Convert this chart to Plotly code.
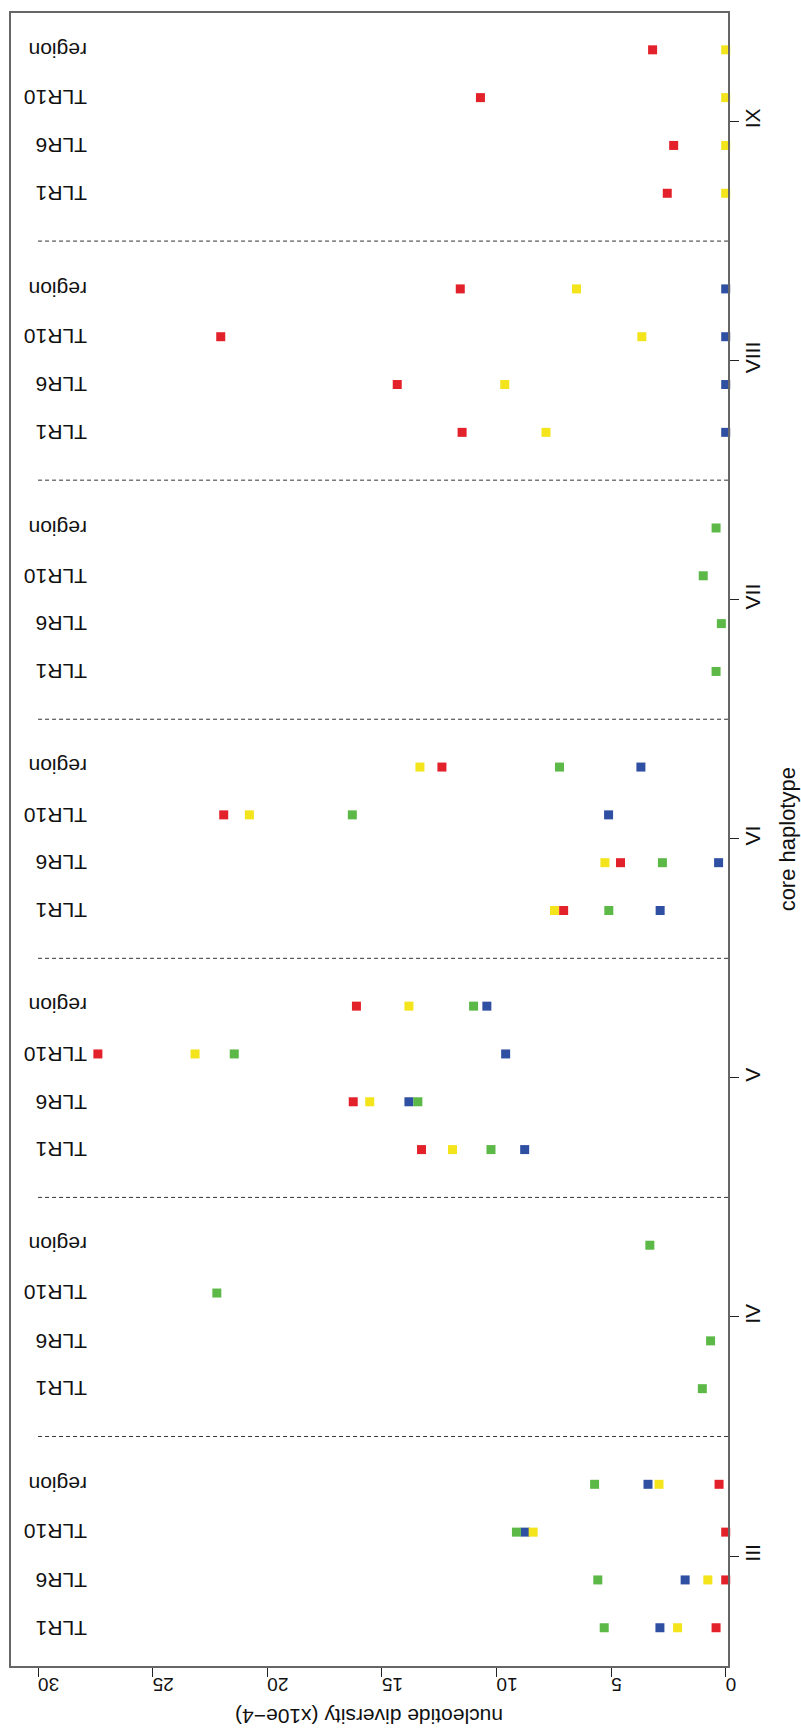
import plotly.graph_objects as go

groups = ["III", "IV", "V", "VI", "VII", "VIII", "IX"]
items = ["TLR1", "TLR6", "TLR10", "region"]

# values per group, in item order TLR1, TLR6, TLR10, region (None = not shown)
red = [
    [0.42, 0.0, 0.0, 0.29],
    [None, None, None, None],
    [13.27, 16.25, 27.39, 16.11],
    [7.07, 4.59, 21.90, 12.38],
    [None, None, None, None],
    [11.50, 14.33, 22.03, 11.58],
    [2.55, 2.27, 10.7, 3.19],
]
yellow = [
    [2.10, 0.78, 8.40, 2.91],
    [None, None, None, None],
    [11.92, 15.53, 23.15, 13.82],
    [7.47, 5.27, 20.78, 13.34],
    [None, None, None, None],
    [7.84, 9.64, 3.66, 6.51],
    [0.0, 0.0, 0.0, 0.0],
]
blue = [
    [2.87, 1.77, 8.75, 3.39],
    [None, None, None, None],
    [8.77, 13.82, 9.60, 10.42],
    [2.86, 0.31, 5.11, 3.70],
    [None, None, None, None],
    [0.0, 0.0, 0.0, 0.0],
    [None, None, None, None],
]
green = [
    [5.30, 5.58, 9.13, 5.72],
    [1.02, 0.66, 22.2, 3.31],
    [10.24, 13.43, 21.44, 11.0],
    [5.10, 2.76, 16.29, 7.25],
    [0.42, 0.19, 0.98, 0.42],
    [None, None, None, None],
    [None, None, None, None],
]

x_ticks = [0, 5, 10, 15, 20, 25, 30]

FONT = "Liberation Sans, Arial, sans-serif"

# positions of items: each group takes 5 slots (4 items + separator)
positions = []
for g in range(len(groups)):
    for i in range(len(items)):
        positions.append(5 * g + i + 1)
group_centers = [5 * g + 2.5 for g in range(len(groups))]
separators = [5 * g + 5 for g in range(len(groups) - 1)]


def flat(series):
    return [v for grp in series for v in grp]


fig = go.Figure()
for name, data, col in [
    ("blue", blue, "#2F4FA2"),
    ("green", green, "#5CB947"),
    ("yellow", yellow, "#F3E41B"),
    ("red", red, "#E3212A"),
]:
    fig.add_trace(go.Scatter(
        x=flat(data), y=positions, mode="markers", name=name,
        marker=dict(symbol="square", size=9, color=col, line=dict(width=0)),
        showlegend=False, cliponaxis=False,
    ))

for s in separators:
    fig.add_shape(type="line", x0=30, x1=-0.1, y0=s, y1=s, xref="x", yref="y",
                  line=dict(color="#333333", width=1, dash="4px,3px"))

for g in range(len(groups)):
    for i, lab in enumerate(items):
        fig.add_annotation(x=27.8, y=5 * g + i + 1, xref="x", yref="y",
                           text=lab, showarrow=False, textangle=180,
                           xanchor="right", yanchor="middle",
                           font=dict(family=FONT, size=21, color="#111111"))

fig.add_annotation(x=0.5, y=-0.031, xref="paper", yref="paper",
                   text="nucleotide diversity (x10e\u22124)", showarrow=False,
                   textangle=180, xanchor="center", yanchor="middle",
                   font=dict(family=FONT, size=21, color="#111111"))
fig.add_annotation(x=1.0835, y=0.5, xref="paper", yref="paper",
                   text="core haplotype", showarrow=False,
                   textangle=-90, xanchor="center", yanchor="middle",
                   font=dict(family=FONT, size=22, color="#111111"))

fig.update_layout(
    width=801, height=1733,
    margin=dict(l=9, r=73, t=13, b=67),
    paper_bgcolor="white", plot_bgcolor="white",
    font=dict(family=FONT, color="#111111"),
    xaxis=dict(range=[31.18, -0.1], tickvals=x_ticks, ticktext=[str(t) for t in x_ticks],
               tickangle=180, ticks="outside", ticklen=9, tickcolor="#222222",
               showline=True, linecolor="#666666", linewidth=1.5, mirror=True,
               showgrid=False, zeroline=False, tickfont=dict(size=19),
               ticklabelstandoff=-3),
    yaxis=dict(range=[0.2, 34.77], side="right", tickvals=group_centers, ticktext=groups,
               tickangle=-90, ticks="outside", ticklen=9, tickcolor="#222222",
               showline=True, linecolor="#666666", linewidth=1.5, mirror=True,
               showgrid=False, zeroline=False, tickfont=dict(size=21),
               ticklabelstandoff=-4),
)

fig.write_html("out.html", config={"displayModeBar": False},
               post_script="document.body.style.margin='0';")
